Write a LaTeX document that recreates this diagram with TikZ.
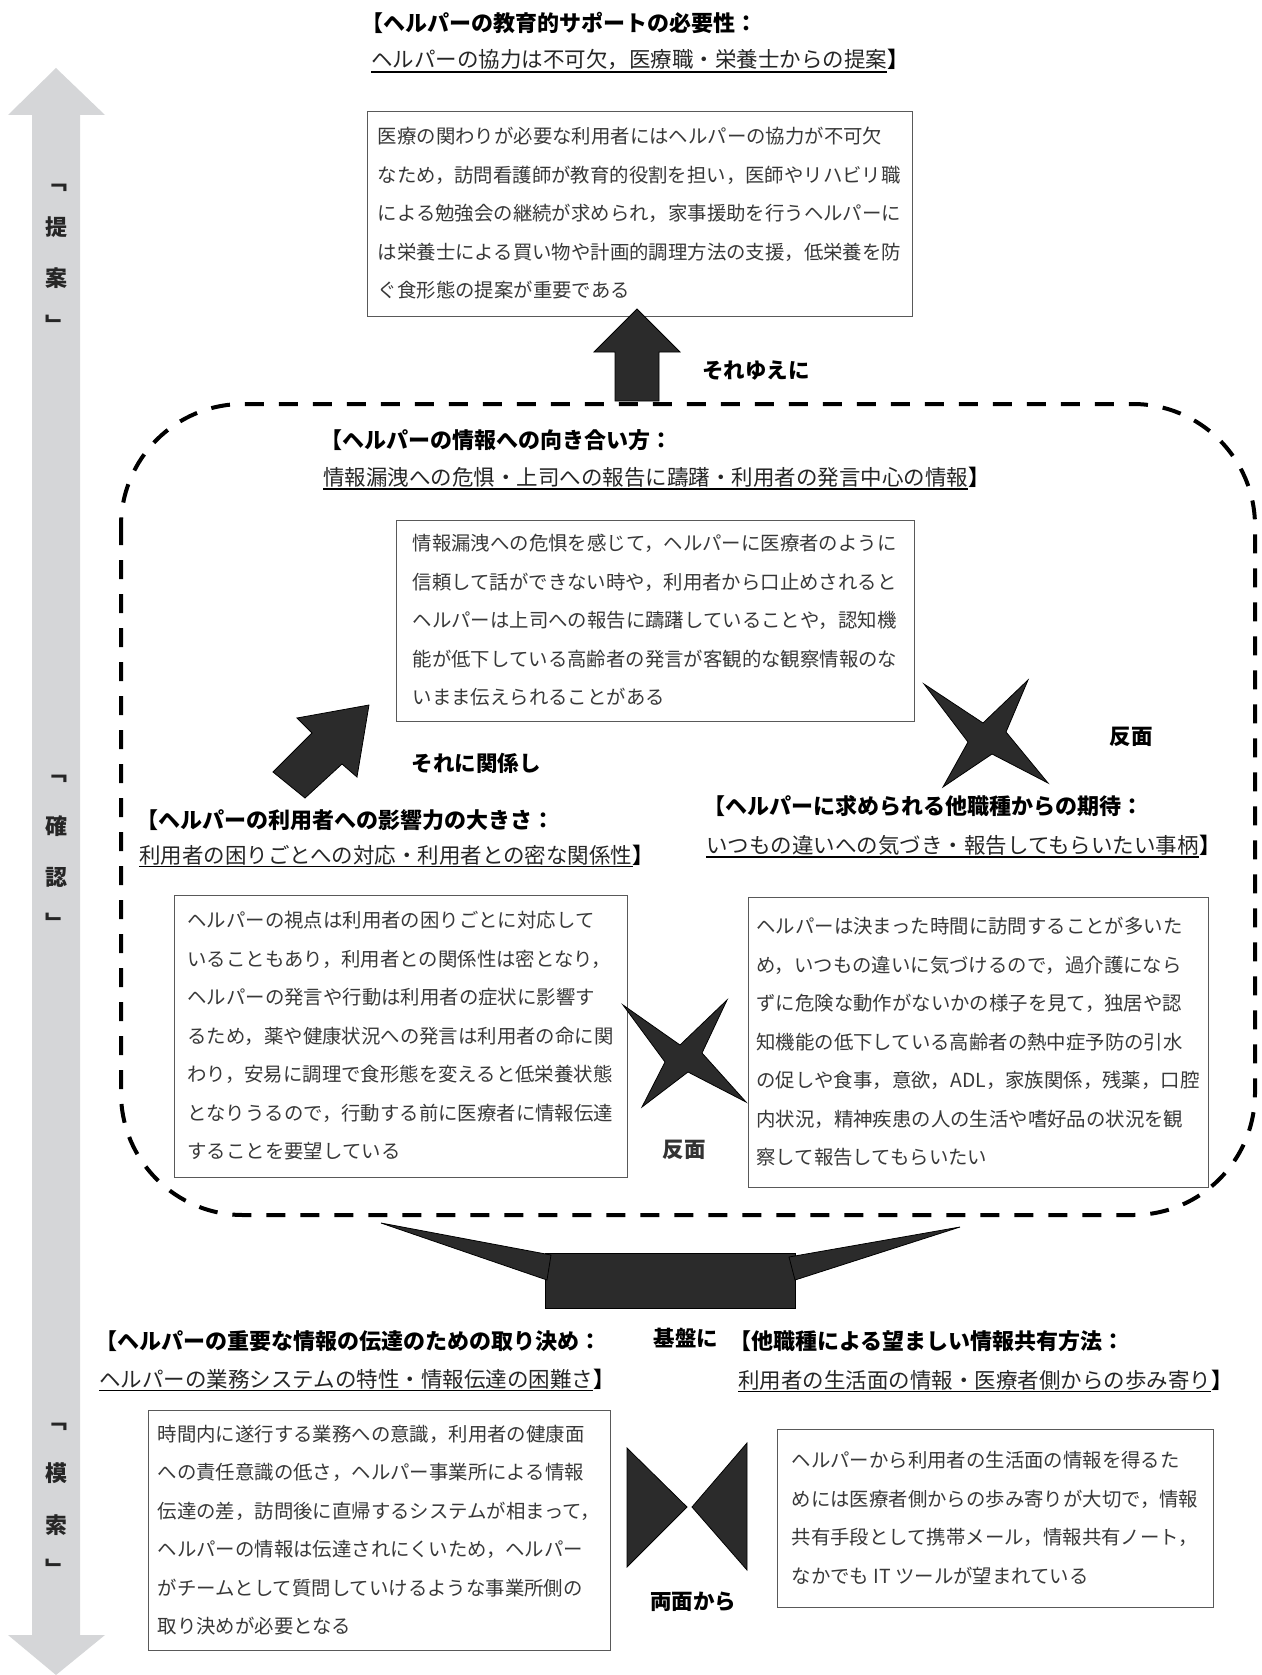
\documentclass[tikz,border=0pt]{standalone}
\usepackage{fontspec}
\newfontfamily\jp{Noto Sans CJK JP}
\definecolor{arrowgray}{HTML}{D5D6D8}
\definecolor{shapeblk}{HTML}{2B2B2B}
\begin{document}
\begin{tikzpicture}[x=1pt,y=-1pt,
  bodybox/.style={draw=black!65, line width=0.9pt, align=left, inner sep=0pt,
    font=\jp\fontsize{19.4pt}{38.5pt}\selectfont, text=black!78},
  ttlb/.style={anchor=west, inner sep=0pt, font=\jp\bfseries\fontsize{22pt}{26pt}\selectfont},
  ttlu/.style={anchor=west, inner sep=0pt, font=\jp\fontsize{21.5pt}{26pt}\selectfont, text=black!85},
  brk/.style={anchor=base west, inner sep=0pt, font=\jp\bfseries\fontsize{21.5pt}{26pt}\selectfont},
  lbl/.style={inner sep=0pt, font=\jp\bfseries\fontsize{21.5pt}{26pt}\selectfont},
  vlbl/.style={inner sep=0pt, font=\jp\bfseries\fontsize{22pt}{26pt}\selectfont, text=black!85},
  blk/.style={fill=shapeblk, draw=black, line width=0.8pt, line join=miter},
  uline/.style={line width=1.6pt},
  dashframe/.style={line width=4pt, dash pattern=on 19pt off 15pt, rounded corners=122pt},
]
\useasboundingbox (0,0) rectangle (1261,1675);

% ---- gray double arrow on the left
\fill[arrowgray] (56,68) -- (105,115) -- (80,115) -- (80,1635) -- (105,1635) -- (56,1675)
  -- (8,1635) -- (32,1635) -- (32,115) -- (8,115) -- cycle;
\node[vlbl] (v1a) at (56,188) {﹁};
\node[vlbl] (v1b) at (56,227) {提};
\node[vlbl] (v1c) at (56,278) {案};
\node[vlbl] (v1d) at (56,324) {﹂};
\node[vlbl] (v2a) at (56,779) {﹁};
\node[vlbl] (v2b) at (56,826) {確};
\node[vlbl] (v2c) at (56,877) {認};
\node[vlbl] (v2d) at (56,922) {﹂};
\node[vlbl] (v3a) at (56,1427) {﹁};
\node[vlbl] (v3b) at (56,1473) {模};
\node[vlbl] (v3c) at (56,1525) {索};
\node[vlbl] (v3d) at (56,1568) {﹂};

% ---- title 1
\node[ttlb] (t1a) at (361,23) {【ヘルパーの教育的サポートの必要性：};
\node[ttlu] (t1b) at (371,60) {ヘルパーの協力は不可欠，医療職・栄養士からの提案};
\node[brk] (t1c) at (t1b.base east) {】};
\draw[uline] ([yshift=-1.5pt]t1b.south west) -- ([yshift=-1.5pt]t1b.south east);

% ---- box 1
\node[bodybox, minimum width=545pt, minimum height=205pt] (b1) at (639.5,213.5) {%
医療の関わりが必要な利用者にはヘルパーの協力が不可欠\\
なため，訪問看護師が教育的役割を担い，医師やリハビリ職\\
による勉強会の継続が求められ，家事援助を行うヘルパーに\\
は栄養士による買い物や計画的調理方法の支援，低栄養を防\\
ぐ食形態の提案が重要である};

% ---- up arrow
\filldraw[blk] (637,309) -- (680,352) -- (659,352) -- (659,401) -- (615,401) -- (615,352) -- (594,352) -- cycle;
\node[lbl, anchor=west] (l1) at (702,371) {それゆえに};

% ---- dashed frame
\draw[dashframe] (121,404) rectangle (1255,1215);

% ---- title 2
\node[ttlb] (t2a) at (320,440) {【ヘルパーの情報への向き合い方：};
\node[ttlu] (t2b) at (323,477) {情報漏洩への危惧・上司への報告に躊躇・利用者の発言中心の情報};
\node[brk] (t2c) at (t2b.base east) {】};
\draw[uline] ([yshift=-1.5pt]t2b.south west) -- ([yshift=-1.5pt]t2b.south east);

% ---- box 2
\node[bodybox, minimum width=518pt, minimum height=201pt] (b2) at (655,620.5) {%
情報漏洩への危惧を感じて，ヘルパーに医療者のように\\
信頼して話ができない時や，利用者から口止めされると\\
ヘルパーは上司への報告に躊躇していることや，認知機\\
能が低下している高齢者の発言が客観的な観察情報のな\\
いまま伝えられることがある};

% ---- diagonal arrow
\filldraw[blk] (369,705) -- (297,718) -- (312,733) -- (273,772) -- (305,798) -- (342,764) -- (357,777) -- cycle;
\node[lbl] (l2) at (476,763) {それに関係し};

% ---- star 1
\filldraw[blk] (924,684) -- (983,723) -- (1028,680) -- (1006,732) -- (1048,783) -- (992,754) -- (943,787) -- (968,742) -- cycle;
\node[lbl] (l3) at (1131,737) {反面};

% ---- title 3
\node[ttlb] (t3a) at (136,820) {【ヘルパーの利用者への影響力の大きさ：};
\node[ttlu] (t3b) at (139,855) {利用者の困りごとへの対応・利用者との密な関係性};
\node[brk] (t3c) at (t3b.base east) {】};
\draw[uline] ([yshift=-1.5pt]t3b.south west) -- ([yshift=-1.5pt]t3b.south east);

% ---- title 4
\node[ttlb] (t4a) at (703,806) {【ヘルパーに求められる他職種からの期待：};
\node[ttlu] (t4b) at (706,845) {いつもの違いへの気づき・報告してもらいたい事柄};
\node[brk] (t4c) at (t4b.base east) {】};
\draw[uline] ([yshift=-1.5pt]t4b.south west) -- ([yshift=-1.5pt]t4b.south east);

% ---- box 3
\node[bodybox, minimum width=453pt, minimum height=282pt] (b3) at (400.5,1036) {%
ヘルパーの視点は利用者の困りごとに対応して\\
いることもあり，利用者との関係性は密となり，\\
ヘルパーの発言や行動は利用者の症状に影響す\\
るため，薬や健康状況への発言は利用者の命に関\\
わり，安易に調理で食形態を変えると低栄養状態\\
となりうるので，行動する前に医療者に情報伝達\\
することを要望している};

% ---- box 4
\node[bodybox, minimum width=460pt, minimum height=290pt] (b4) at (978,1042) {%
ヘルパーは決まった時間に訪問することが多いた\\
め，いつもの違いに気づけるので，過介護になら\\
ずに危険な動作がないかの様子を見て，独居や認\\
知機能の低下している高齢者の熱中症予防の引水\\
の促しや食事，意欲，ADL，家族関係，残薬，口腔\\
内状況，精神疾患の人の生活や嗜好品の状況を観\\
察して報告してもらいたい};

% ---- star 2
\filldraw[blk] (623,1005) -- (680,1045) -- (727,1000) -- (702,1053) -- (746,1102) -- (688,1072) -- (642,1107) -- (665,1062) -- cycle;
\node[lbl, text=black!80] (l4) at (684,1150) {反面};

% ---- funnel
\filldraw[blk] (545,1253) rectangle (795,1308);
\filldraw[blk] (381,1223) -- (551,1255) -- (547,1280) -- cycle;
\filldraw[blk] (960,1227) -- (789,1257) -- (795,1280) -- cycle;
\node[lbl] (l5) at (686,1338) {基盤に};

% ---- title 5
\node[ttlb] (t5a) at (95,1341) {【ヘルパーの重要な情報の伝達のための取り決め：};
\node[ttlu] (t5b) at (99,1379) {ヘルパーの業務システムの特性・情報伝達の困難さ};
\node[brk] (t5c) at (t5b.base east) {】};
\draw[uline] ([yshift=-1.5pt]t5b.south west) -- ([yshift=-1.5pt]t5b.south east);

% ---- title 6
\node[ttlb] (t6a) at (729,1341) {【他職種による望ましい情報共有方法：};
\node[ttlu] (t6b) at (738,1380) {利用者の生活面の情報・医療者側からの歩み寄り};
\node[brk] (t6c) at (t6b.base east) {】};
\draw[uline] ([yshift=-1.5pt]t6b.south west) -- ([yshift=-1.5pt]t6b.south east);

% ---- box 5
\node[bodybox, minimum width=462pt, minimum height=240pt] (b5) at (379,1530) {%
時間内に遂行する業務への意識，利用者の健康面\\
への責任意識の低さ，ヘルパー事業所による情報\\
伝達の差，訪問後に直帰するシステムが相まって，\\
ヘルパーの情報は伝達されにくいため，ヘルパー\\
がチームとして質問していけるような事業所側の\\
取り決めが必要となる};

% ---- bowtie
\filldraw[blk] (627,1448) -- (627,1567) -- (687,1507) -- cycle;
\filldraw[blk] (747,1443) -- (747,1570) -- (692,1507) -- cycle;
\node[lbl] (l6) at (693,1602) {両面から};

% ---- box 6
\node[bodybox, minimum width=436pt, minimum height=178pt] (b6) at (995,1518) {%
ヘルパーから利用者の生活面の情報を得るた\\
めには医療者側からの歩み寄りが大切で，情報\\
共有手段として携帯メール，情報共有ノート，\\
なかでも IT ツールが望まれている};
\end{tikzpicture}
\end{document}
